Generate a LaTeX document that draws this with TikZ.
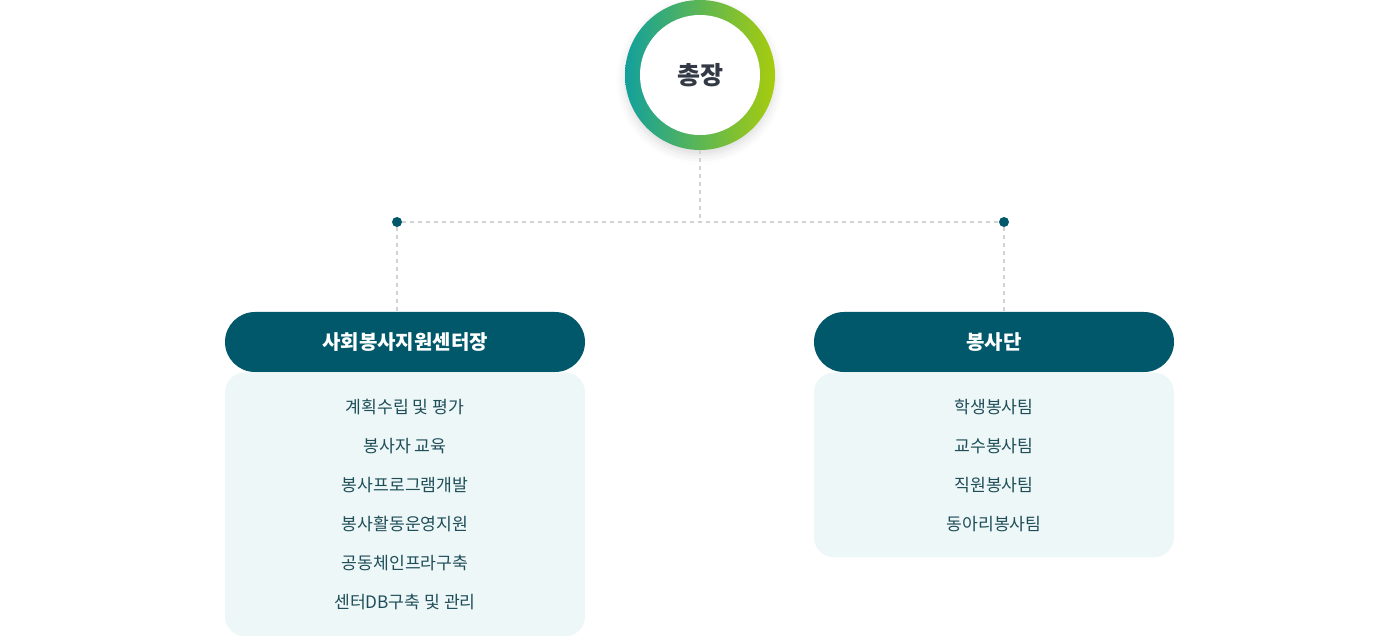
\documentclass[tikz,border=0pt]{standalone}
\usepackage{fontspec}
\setmainfont{Noto Sans CJK KR}
\usetikzlibrary{positioning,shadows.blur}
\definecolor{SVTeal}{HTML}{00586A}
\definecolor{SVPale}{HTML}{EEF7F8}
\definecolor{SVText}{HTML}{1F4E59}
\definecolor{SVLine}{HTML}{D2D2D2}
\definecolor{RingA}{HTML}{12A09C}
\definecolor{RingB}{HTML}{A8CC0C}
\definecolor{BossText}{HTML}{333A45}

\begin{document}
\begin{tikzpicture}[
  x=1pt, y=-1pt,
  node distance=39pt, on grid,
  ring/.style={circle, minimum size=150pt, inner sep=0pt, left color=RingA, right color=RingB,
    blur shadow={shadow xshift=0pt, shadow yshift=-5pt, shadow blur radius=9pt, shadow opacity=14}},
  boss/.style={circle, fill=white, minimum size=120pt, inner sep=0pt, text=BossText, font=\fontsize{25}{29}\selectfont\bfseries},
  head/.style={fill=SVTeal, text=white, rounded corners=30pt, minimum width=360pt, minimum height=60pt, font=\fontsize{20}{24}\selectfont\bfseries},
  panel/.style={fill=SVPale, rounded corners=20pt, minimum width=360pt, anchor=north},
  item/.style={text=SVText, font=\fontsize{17.2}{20}\selectfont},
  link/.style={draw=SVLine, dash pattern=on 4pt off 4pt, line width=1.3pt},
  joint/.style={circle, fill=SVTeal, inner sep=0pt, minimum size=10pt}
]
\useasboundingbox (0,0) rectangle (1400,636);

% 총장
\node[ring] (ring) at (700,75) {};
\node[boss] (boss) at (700,75) {총장};

% 연결선
\coordinate (hub) at (700,222);
\node[joint] (ldot) at (397,222) {};
\node[joint] (rdot) at (1004,222) {};
\node[head] (lhead) at (405,342) {사회봉사지원센터장};
\node[head] (rhead) at (994,342) {봉사단};
\draw[link] (ring.south) -- (hub);
\draw[link] (ldot) -- (rdot);
\draw[link] (ldot) -- (ldot |- lhead.north);
\draw[link] (rdot) -- (rdot |- rhead.north);

% 사회봉사지원센터장
\node[panel, minimum height=264pt] (lpanel) at (lhead.south) {};
\node[item] (l1) at ([yshift=-35pt]lpanel.north) {계획수립 및 평가};
\node[item, below=of l1] (l2) {봉사자 교육};
\node[item, below=of l2] (l3) {봉사프로그램개발};
\node[item, below=of l3] (l4) {봉사활동운영지원};
\node[item, below=of l4] (l5) {공동체인프라구축};
\node[item, below=of l5] (l6) {센터DB구축 및 관리};

% 봉사단
\node[panel, minimum height=185pt] (rpanel) at (rhead.south) {};
\node[item] (r1) at ([yshift=-35pt]rpanel.north) {학생봉사팀};
\node[item, below=of r1] (r2) {교수봉사팀};
\node[item, below=of r2] (r3) {직원봉사팀};
\node[item, below=of r3] (r4) {동아리봉사팀};
\end{tikzpicture}
\end{document}
